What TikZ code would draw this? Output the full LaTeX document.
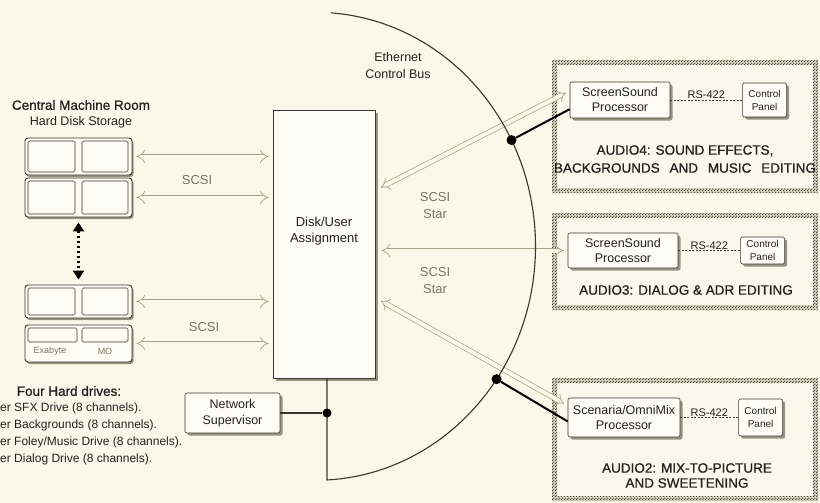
\documentclass[tikz,border=0pt]{standalone}
\usepackage{fontspec}
\setmainfont{Liberation Sans}
\newfontfamily\medfont[FakeBold=0.8]{Liberation Sans}
\usepackage{tikz}
\usetikzlibrary{positioning,shapes,shadows,arrows.meta,calc,patterns,patterns.meta}

\definecolor{bgcol}{RGB}{250,248,232}
\definecolor{boxfill}{RGB}{254,253,245}
\definecolor{framefill}{RGB}{250,248,234}
\definecolor{bandcol}{RGB}{212,209,188}
\definecolor{linecol}{RGB}{55,55,45}
\definecolor{arrowcol}{RGB}{165,163,135}
\definecolor{scsitext}{RGB}{120,119,100}
\definecolor{framecol}{RGB}{70,68,56}
\definecolor{shadowcol}{RGB}{150,148,128}
\definecolor{textcol}{RGB}{35,35,30}

\tikzdeclarepattern{
	name=finecheck,
	type=uncolored,
	bottom left={(0pt,0pt)},
	top right={(3pt,3pt)},
	tile size={(3pt,3pt)},
	code={
		\pgfpathcircle{\pgfqpoint{0.75pt}{0.75pt}}{0.85pt}
		\pgfpathcircle{\pgfqpoint{2.25pt}{2.25pt}}{0.85pt}
		\pgfusepath{fill}
	}
}

\begin{document}
\begin{tikzpicture}[x=1pt, y=-1pt, node distance=4pt]
	\tikzset{
		myrow/.style={rectangle, rounded corners=3pt, draw=linecol, fill=boxfill, line width=0.9pt, minimum width=107pt, inner sep=0pt, drop shadow={shadow xshift=1.5pt, shadow yshift=-2pt, fill=shadowcol, opacity=1}},
		mycell/.style={rectangle, rounded corners=1.5pt, draw=linecol, fill=boxfill, line width=0.7pt, inner sep=0pt},
		mymain/.style={rectangle, draw=linecol, fill=boxfill, line width=0.8pt, inner sep=0pt, align=center, text=textcol, font=\fontsize{13}{16}\selectfont, drop shadow={shadow xshift=3pt, shadow yshift=-3pt, fill=shadowcol, opacity=1}},
		myproc/.style={rectangle, rounded corners=2pt, draw=linecol, fill=boxfill, line width=0.6pt, inner sep=0pt, align=center, text=textcol, font=\fontsize{12.5}{15}\selectfont, drop shadow={shadow xshift=2.5pt, shadow yshift=-2.5pt, fill=shadowcol, opacity=1}},
		mypanel/.style={myproc, font=\fontsize{10}{13}\selectfont, minimum width=44pt},
		myframe/.style={rectangle, minimum width=266pt, inner sep=0pt, fill=framefill, path picture={
			\fill[bandcol, even odd rule]
				(path picture bounding box.south west) rectangle (path picture bounding box.north east)
				([xshift=5pt, yshift=5pt]path picture bounding box.south west) rectangle ([xshift=-5pt, yshift=-5pt]path picture bounding box.north east);
			\fill[pattern=finecheck, pattern color=framecol, even odd rule]
				(path picture bounding box.south west) rectangle (path picture bounding box.north east)
				([xshift=5pt, yshift=5pt]path picture bounding box.south west) rectangle ([xshift=-5pt, yshift=-5pt]path picture bounding box.north east);}},
		myarrow/.style={draw=arrowcol, double=bgcol, double distance=4pt, line width=0.7pt, {Implies[scale=1.5]}-{Implies[scale=1.5]}, shorten >=4pt, shorten <=4pt},
		mydotted/.style={black, line width=2.2pt, dash pattern=on 2pt off 3pt, {Triangle[length=9pt, width=11pt]}-{Triangle[length=9pt, width=11pt]}, shorten >=5pt, shorten <=5pt},
		myline/.style={draw=linecol, line width=1.1pt},
		mybus/.style={draw=black, line width=2pt},
		myrs/.style={draw=linecol, line width=0.6pt, dash pattern=on 2pt off 1.5pt},
		mydot/.style={circle, fill=black, inner sep=0pt, minimum size=10pt},
		mylabel/.style={text=textcol, align=center, inner sep=1pt, font=\fontsize{12.5}{17}\selectfont},
		mygray/.style={mylabel, text=scsitext, font=\fontsize{13}{17}\selectfont},
		mytitle/.style={mylabel, font=\medfont\fontsize{13.5}{18}\selectfont}
	}
	\path[use as bounding box, fill=bgcol] (0,0) rectangle (820,503);

	% central machine room
	\node[mytitle] (cmr) at (81,105) {Central Machine Room};
	\node[mylabel] (hds) at (81,122) {Hard Disk Storage};
	\node[myrow, minimum height=37pt] (row1) at (78.5,156.5) {};
	\node[mycell, minimum width=47pt, minimum height=31pt] (cell1a) at (51.5,156.5) {};
	\node[mycell, minimum width=46pt, minimum height=31pt] (cell1b) at (105,156.5) {};
	\node[myrow, minimum height=39pt] (row2) at (78.5,197.5) {};
	\node[mycell, minimum width=47pt, minimum height=33pt] (cell2a) at (51.5,197.5) {};
	\node[mycell, minimum width=46pt, minimum height=33pt] (cell2b) at (105,197.5) {};
	\node[myrow, minimum height=33pt] (row3) at (78.5,301.5) {};
	\node[mycell, minimum width=47pt, minimum height=27pt] (cell3a) at (51.5,301.5) {};
	\node[mycell, minimum width=46pt, minimum height=27pt] (cell3b) at (105,301.5) {};
	\node[myrow, minimum height=37pt] (row4) at (78.5,343.5) {};
	\node[mycell, minimum width=49pt, minimum height=14pt] (exa) at (52.5,335) {};
	\node[mycell, minimum width=46pt, minimum height=14pt] (mo) at (105,335) {};
	\node[mylabel, text=scsitext, font=\fontsize{9}{11}\selectfont] (exal) at (50,351) {Exabyte};
	\node[mylabel, text=scsitext, font=\fontsize{9}{11}\selectfont] (mol) at (105,351) {MO};
	\draw[mydotted] (row2.south) -- (row3.north);

	\node[mytitle] (fhd) at (69,391) {Four Hard drives:};
	\node[mylabel, anchor=west, align=left, inner sep=0pt, font=\fontsize{12}{16.8}\selectfont] (drives) at (0,434) {er SFX Drive (8 channels).\\er Backgrounds (8 channels).\\er Foley/Music Drive (8 channels).\\er Dialog Drive (8 channels).};

	% switch
	\node[mymain, minimum width=102pt, minimum height=268pt] (dua) at (324,244) {Disk/User\\Assignment\\[12pt]};
	\node[myproc, minimum width=95pt, minimum height=40pt, font=\fontsize{12.5}{16}\selectfont] (netsup) at (232.5,413) {Network\\Supervisor};

	\draw[myarrow] (row1.east) -- (row1.east -| dua.west);
	\draw[myarrow] (row2.east) -- (row2.east -| dua.west);
	\draw[myarrow] (row3.east) -- (row3.east -| dua.west);
	\draw[myarrow] (row4.east) -- (row4.east -| dua.west);
	\node[mygray] (scsi1) at (197,180) {SCSI};
	\node[mygray] (scsi2) at (204,327) {SCSI};

	% edit rooms
	\node[myframe, minimum height=133pt] (audio4) at (685,126.5) {};
	\node[myproc, minimum width=100pt, minimum height=36pt] (proc4) at (620,100) {ScreenSound\\Processor};
	\node[mypanel, minimum height=34pt, right=72pt of proc4] (panel4) {Control\\Panel};
	\draw[myrs] (proc4.east) -- (panel4.west) node[midway, above, mylabel, font=\fontsize{11}{13}\selectfont] {RS-422};
	\node[mytitle] (title4) at (685,159) {AUDIO4: SOUND EFFECTS,\\\makebox[262pt][s]{BACKGROUNDS AND MUSIC EDITING}};

	\node[myframe, minimum height=97pt] (audio3) at (685,261.5) {};
	\node[myproc, minimum width=110pt, minimum height=35pt] (proc3) at (623,250.5) {ScreenSound\\Processor};
	\node[mypanel, minimum height=27pt, right=62pt of proc3] (panel3) {Control\\Panel};
	\draw[myrs] (proc3.east) -- (panel3.west) node[midway, above, mylabel, font=\fontsize{11}{13}\selectfont] {RS-422};
	\node[mytitle] (title3) at (686,290) {AUDIO3: DIALOG \& ADR EDITING};

	\node[myframe, minimum height=123pt] (audio2) at (685,439.5) {};
	\node[myproc, minimum width=112pt, minimum height=39pt] (proc2) at (624,417.5) {Scenaria/OmniMix\\Processor};
	\node[mypanel, minimum height=37pt, right=58pt of proc2] (panel2) {Control\\Panel};
	\draw[myrs] (proc2.east) -- (panel2.west) node[midway, above, mylabel, font=\fontsize{11}{13}\selectfont] {RS-422};
	\node[mytitle, font=\medfont\fontsize{13.5}{15}\selectfont] (title2) at (687,475.5) {AUDIO2: MIX-TO-PICTURE\\AND SWEETENING};

	% scsi star
	\draw[myarrow, shorten >=6pt] ($(proc4.west)!0.5!(proc4.north west)$) -- ($(dua.north east)!0.3!(dua.south east)$);
	\draw[myarrow, shorten >=6pt] (proc3.west) -- (proc3.west -| dua.east);
	\draw[myarrow, shorten >=6pt] ($(proc2.west)!0.6!(proc2.north west)$) -- ($(dua.north east)!0.7!(dua.south east)$);
	\node[mygray] (star1) at (435,206) {SCSI\\Star};
	\node[mygray] (star2) at (435,281) {SCSI\\Star};

	% ethernet
	\coordinate (bc) at (315.5,246.3);
	\path (bc) ++(27:220pt and 234pt) coordinate (etop);
	\path (bc) ++(-34.6:220pt and 234pt) coordinate (ebot);
	\path (bc) ++(-87:220pt and 234pt) coordinate (busend);
	\draw[myline] (dua.south -| busend) -- (busend) arc[start angle=-87, end angle=86, x radius=220pt, y radius=234pt];
	\node[mylabel] (ecb) at (398,66) {Ethernet\\Control Bus};
	\node[mydot, minimum size=9pt] (nsdot) at (netsup.east -| busend) {};
	\draw[myline] (netsup.east) -- (nsdot);
	\node[mydot] (dot4) at (etop) {};
	\node[mydot] (dot2) at (ebot) {};
	\draw[mybus] (dot4) -- ($(proc4.west)!0.5!(proc4.south west)$);
	\draw[mybus] (dot2) -- ($(proc2.west)!0.2!(proc2.south west)$);
\end{tikzpicture}
\end{document}
